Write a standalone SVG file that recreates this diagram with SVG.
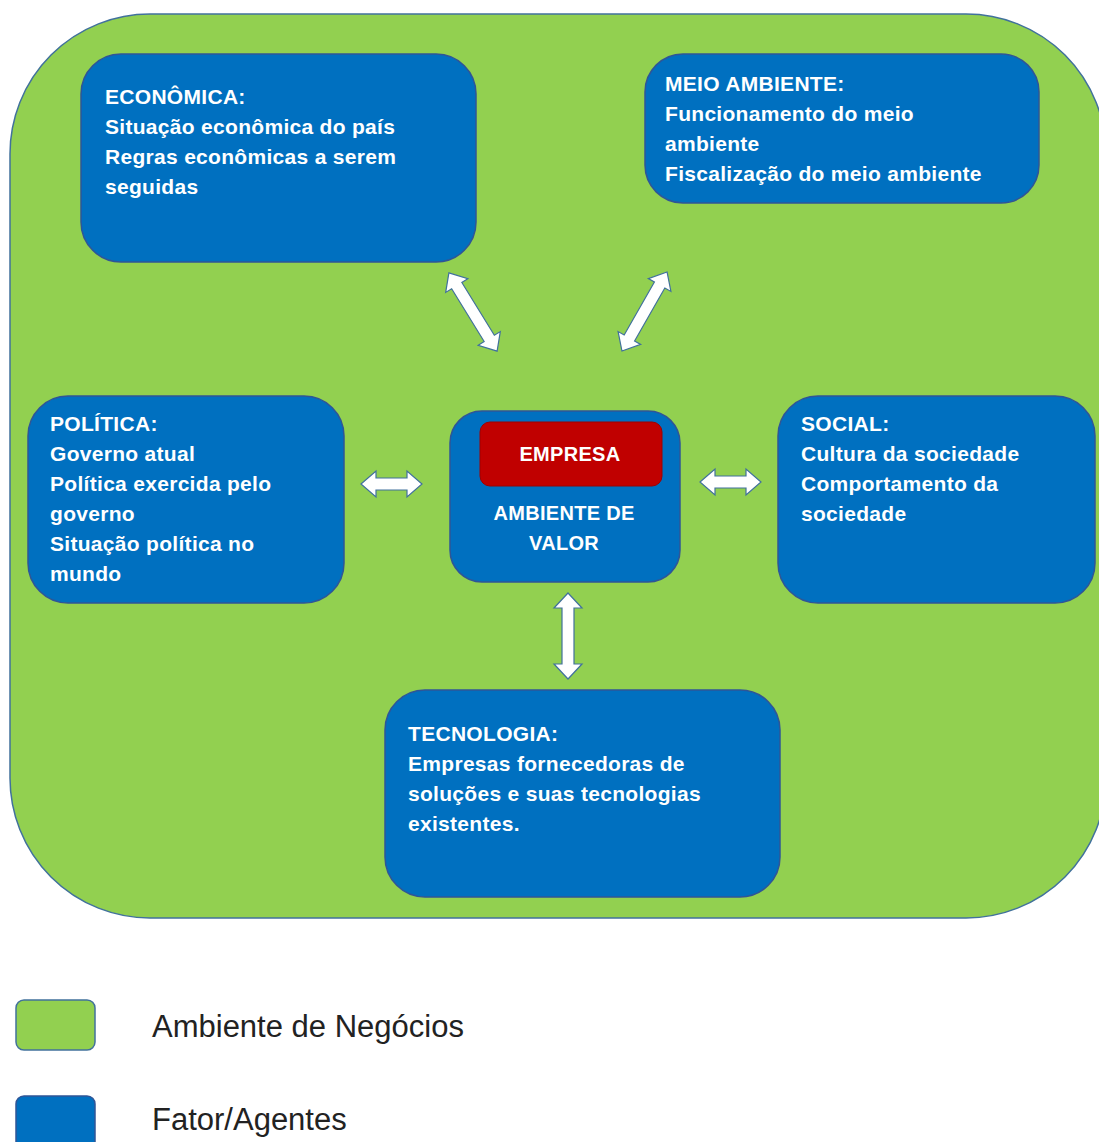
<svg xmlns="http://www.w3.org/2000/svg" width="1099" height="1142" viewBox="0 0 1099 1142">
  <defs>
    <style>
      .env { fill: #92D050; stroke: #41719C; stroke-width: 1.5; }
      .factor { fill: #0070C0; stroke: #2F5597; stroke-width: 1.5; }
      .core { fill: #C00000; stroke: #A00000; stroke-width: 1; }
      .lbl { font-family: "Liberation Sans", Arial, sans-serif; font-weight: bold; font-size: 21px; letter-spacing: 0.3px; fill: #FFFFFF; }
      .mid { text-anchor: middle; }
      .arrow { fill: #FFFFFF; stroke: #41719C; stroke-width: 1.2; stroke-linejoin: miter; }
      .legend { font-family: "Liberation Sans", Arial, sans-serif; font-size: 31px; fill: #222222; }
    </style>
  </defs>

  <rect width="1099" height="1142" fill="#FFFFFF"/>

  <!-- business environment -->
  <g id="ambiente-negocios">
    <rect class="env" x="10" y="14" width="1096" height="904" rx="140" ry="140"/>
  </g>

  <g id="economica">
    <rect class="factor" x="81" y="54" width="395" height="208" rx="40" ry="40"/>
    <text class="lbl" x="105" y="104">ECONÔMICA:</text>
    <text class="lbl" x="105" y="134">Situação econômica do país</text>
    <text class="lbl" x="105" y="164">Regras econômicas a serem</text>
    <text class="lbl" x="105" y="194">seguidas</text>
  </g>

  <g id="meio-ambiente">
    <rect class="factor" x="645" y="54" width="394" height="149" rx="38" ry="38"/>
    <text class="lbl" x="665" y="91">MEIO AMBIENTE:</text>
    <text class="lbl" x="665" y="121">Funcionamento do meio</text>
    <text class="lbl" x="665" y="151">ambiente</text>
    <text class="lbl" x="665" y="181">Fiscalização do meio ambiente</text>
  </g>

  <g id="politica">
    <rect class="factor" x="28" y="396" width="316" height="207" rx="40" ry="40"/>
    <text class="lbl" x="50" y="431">POLÍTICA:</text>
    <text class="lbl" x="50" y="461">Governo atual</text>
    <text class="lbl" x="50" y="491">Política exercida pelo</text>
    <text class="lbl" x="50" y="521">governo</text>
    <text class="lbl" x="50" y="551">Situação política no</text>
    <text class="lbl" x="50" y="581">mundo</text>
  </g>

  <g id="empresa">
    <rect class="factor" x="450" y="411" width="230" height="171" rx="32" ry="32"/>
    <rect class="core" x="480" y="422" width="182" height="64" rx="10" ry="10"/>
    <text class="lbl mid" x="570" y="461" style="font-size:20px">EMPRESA</text>
    <text class="lbl mid" x="564" y="520" style="font-size:20px">AMBIENTE DE</text>
    <text class="lbl mid" x="564" y="550" style="font-size:20px">VALOR</text>
  </g>

  <g id="social">
    <rect class="factor" x="778" y="396" width="317" height="207" rx="40" ry="40"/>
    <text class="lbl" x="801" y="431">SOCIAL:</text>
    <text class="lbl" x="801" y="461">Cultura da sociedade</text>
    <text class="lbl" x="801" y="491">Comportamento da</text>
    <text class="lbl" x="801" y="521">sociedade</text>
  </g>

  <g id="tecnologia">
    <rect class="factor" x="385" y="690" width="395" height="207" rx="40" ry="40"/>
    <text class="lbl" x="408" y="741">TECNOLOGIA:</text>
    <text class="lbl" x="408" y="771">Empresas fornecedoras de</text>
    <text class="lbl" x="408" y="801">soluções e suas tecnologias</text>
    <text class="lbl" x="408" y="831">existentes.</text>
  </g>

  <!-- two-way block arrows between the factors and the company -->
  <g id="connectors">
    <path class="arrow" transform="translate(473,312) rotate(58.4)" d="M-46,0 L-31,-13 L-31,-6 L31,-6 L31,-13 L46,0 L31,13 L31,6 L-31,6 L-31,13 Z"/>
    <path class="arrow" transform="translate(644.5,311.5) rotate(119.7)" d="M-45.5,0 L-30.5,-13 L-30.5,-6 L30.5,-6 L30.5,-13 L45.5,0 L30.5,13 L30.5,6 L-30.5,6 L-30.5,13 Z"/>
    <path class="arrow" transform="translate(391.5,484)" d="M-30.5,0 L-15.5,-13 L-15.5,-6 L15.5,-6 L15.5,-13 L30.5,0 L15.5,13 L15.5,6 L-15.5,6 L-15.5,13 Z"/>
    <path class="arrow" transform="translate(730.5,482)" d="M-30.5,0 L-15.5,-13 L-15.5,-6 L15.5,-6 L15.5,-13 L30.5,0 L15.5,13 L15.5,6 L-15.5,6 L-15.5,13 Z"/>
    <path class="arrow" transform="translate(568,636) rotate(90)" d="M-43,0 L-28,-14 L-28,-6 L28,-6 L28,-14 L43,0 L28,14 L28,6 L-28,6 L-28,14 Z"/>
  </g>

  <!-- legend -->
  <g id="legenda">
    <rect class="env" x="16" y="1000" width="79" height="50" rx="8" ry="8"/>
    <text class="legend" x="152" y="1037">Ambiente de Negócios</text>
    <rect class="factor" x="16" y="1096" width="79" height="56" rx="8" ry="8"/>
    <text class="legend" x="152" y="1130">Fator/Agentes</text>
  </g>
</svg>
